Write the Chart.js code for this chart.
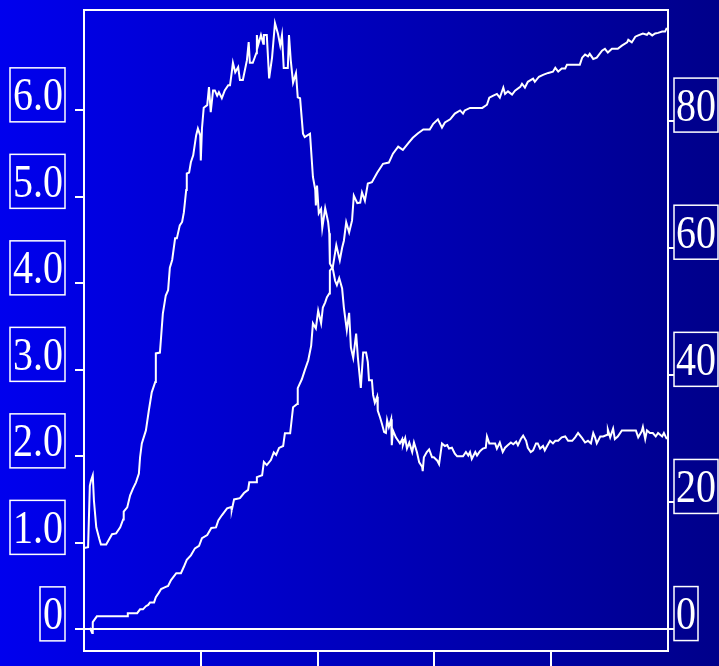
<!DOCTYPE html>
<html>
<head>
<meta charset="utf-8">
<style>
  html, body { margin: 0; padding: 0; overflow: hidden; background: #0000c0; }
  canvas { display: block; }
</style>
<script src="https://cdn.jsdelivr.net/npm/chart.js@4.4.1/dist/chart.umd.min.js"></script>
</head>
<body>
<canvas id="chart" width="719" height="666"></canvas>
<script>
// Tick positions and their printed labels
const xTicks = [20, 40, 60, 80];
const leftTicks = [0, 1, 2, 3, 4, 5, 6];
const leftLabels = ['0', '1.0', '2.0', '3.0', '4.0', '5.0', '6.0'];
const rightTicks = [0, 20, 40, 60, 80];
const rightLabels = ['0', '20', '40', '60', '80'];

// Rise-and-fall trace, read against the left axis: [x, value]
const primaryTrace = [
  [0,0.94],[0.7,0.95],[1.0,1.66],[1.2,1.72],[1.5,1.78],[1.7,1.49],[2.1,1.18],[2.6,1.05],[2.9,0.98],[3.8,0.98],
  [4.8,1.10],[5.5,1.11],[6.2,1.18],[6.7,1.27],[6.8,1.36],[7.4,1.41],[7.9,1.55],[8.4,1.63],[8.9,1.70],[9.4,1.80],
  [9.6,1.99],[9.9,2.15],[10.6,2.30],[11.1,2.53],[11.6,2.74],[12.2,2.86],[12.3,3.19],[13.0,3.20],[13.5,3.65],[14.0,3.86],
  [14.4,3.92],[14.7,4.18],[15.1,4.27],[15.6,4.52],[15.9,4.52],[16.4,4.67],[16.8,4.71],[17.1,4.82],[17.5,5.08],[17.6,5.27],
  [18.0,5.28],[18.3,5.40],[18.7,5.48],[19.2,5.71],[19.5,5.79],[19.9,5.71],[20.0,5.42],[20.2,5.79],[20.5,6.03],[21.1,6.06],
  [21.4,6.27],[21.7,5.98],[22.1,6.23],[22.4,6.23],[22.8,6.17],[23.1,6.21],[23.6,6.14],[24.1,6.23],[24.7,6.29],[25.0,6.29],
  [25.3,6.44],[25.5,6.55],[25.9,6.44],[26.4,6.50],[26.7,6.35],[27.2,6.35],[27.9,6.58],[28.2,6.79],[28.4,6.55],[28.9,6.55],
  [29.5,6.66],[29.6,6.87],[29.8,6.75],[30.3,6.87],[30.7,6.77],[30.8,6.87],[31.3,6.87],[31.7,6.37],[32.2,6.61],[32.7,7.01],
  [33.2,6.89],[33.6,6.75],[33.9,6.87],[34.2,6.49],[34.9,6.49],[35.1,6.87],[35.4,6.58],[35.8,6.32],[36.3,6.43],[36.6,6.15],
  [37.0,6.14],[37.5,5.73],[37.8,5.69],[38.7,5.73],[39.2,5.23],[39.6,5.08],[39.7,4.90],[39.9,5.13],[40.2,4.81],[40.6,4.86],
  [40.8,4.64],[41.3,4.87],[41.8,4.71],[42.0,4.58],[42.1,4.23],[42.6,4.17],[43.0,4.03],[43.3,3.98],[43.7,4.06],[44.2,3.94],
  [44.5,3.72],[45.0,3.46],[45.4,3.66],[45.7,3.26],[46.1,3.14],[46.6,3.42],[46.9,3.14],[47.4,2.79],[47.8,3.20],[48.3,3.20],
  [48.6,3.09],[48.8,2.88],[49.3,2.88],[49.5,2.71],[49.8,2.62],[50.2,2.69],[50.3,2.53],[50.7,2.45],[51.0,2.38],[51.4,2.28],
  [51.7,2.27],[51.9,2.42],[52.2,2.34],[52.6,2.43],[52.7,2.13],[52.9,2.30],[53.4,2.22],[53.8,2.18],[54.1,2.15],[54.5,2.20],
  [54.6,2.13],[55.0,2.21],[55.3,2.09],[55.7,2.16],[56.2,2.05],[56.5,2.16],[57.0,2.05],[57.4,1.93],[57.9,1.88],[58.0,1.83],
  [58.2,1.99],[58.7,2.05],[59.1,2.08],[59.6,1.99],[59.9,1.99],[60.5,1.95],[60.8,1.91],[61.3,2.15],[61.8,2.12],[62.2,2.13],
  [62.5,2.09],[63.0,2.10],[63.5,2.03],[63.9,2.00],[64.9,2.00],[65.4,2.05],[65.8,2.01],[66.1,2.05],[66.4,1.97],[67.0,2.05],
  [67.3,2.01],[67.8,2.06],[68.3,2.09],[68.8,2.10],[69.0,2.23],[69.4,2.15],[70.4,2.15],[70.7,2.09],[71.2,2.16],[71.7,2.05],
  [72.1,2.10],[72.6,2.13],[73.1,2.16],[73.5,2.14],[74.0,2.17],[74.3,2.13],[74.8,2.20],[75.2,2.24],[75.7,2.18],[76.0,2.10],
  [76.5,2.05],[76.9,2.07],[77.4,2.15],[77.7,2.15],[78.1,2.09],[78.6,2.12],[78.9,2.07],[79.3,2.12],[79.8,2.18],[80.3,2.15],
  [80.7,2.18],[81.2,2.18],[81.8,2.22],[82.4,2.23],[82.9,2.18],[83.6,2.18],[84.1,2.22],[84.6,2.27],[85.3,2.21],[85.8,2.16],
  [86.3,2.18],[86.8,2.15],[87.2,2.27],[87.5,2.22],[87.8,2.15],[88.4,2.23],[88.9,2.23],[89.6,2.25],[89.7,2.31],[90.1,2.22],
  [90.6,2.32],[90.9,2.20],[91.4,2.23],[92.1,2.30],[94.5,2.30],[94.9,2.22],[95.5,2.29],[95.7,2.34],[96.1,2.20],[96.4,2.30],
  [96.9,2.27],[97.4,2.27],[97.9,2.23],[98.3,2.27],[99.0,2.23],[99.3,2.27],[99.8,2.20]
];

// Steadily climbing trace, read against the right axis: [x, value]
const secondaryTrace = [
  [1.0,0.2],[1.4,-0.6],[1.5,1.1],[2.2,2.0],[7.4,2.0],[7.5,2.5],[9.1,2.5],[9.6,3.1],[10.1,3.1],[10.6,3.6],
  [11.0,3.8],[11.3,4.2],[12.0,4.2],[12.3,5.0],[12.8,5.7],[13.2,6.3],[13.9,6.6],[14.4,6.8],[14.9,7.7],[15.8,8.8],
  [16.6,8.8],[17.1,9.8],[17.6,10.9],[18.3,11.6],[19.0,12.7],[19.7,13.1],[20.2,14.3],[21.1,14.8],[21.8,15.9],[22.6,16.0],
  [23.0,17.1],[23.6,17.9],[24.5,19.0],[25.2,19.2],[25.3,18.7],[25.7,20.4],[26.7,20.6],[27.4,21.4],[28.1,21.9],[28.3,23.1],
  [29.5,23.1],[29.6,23.9],[30.5,24.2],[30.8,26.3],[31.3,25.8],[32.0,26.6],[32.5,27.8],[32.9,27.4],[33.4,28.5],[34.1,28.8],
  [34.4,30.8],[35.3,30.8],[35.8,34.9],[36.5,35.4],[36.6,37.9],[37.3,39.3],[37.8,40.7],[38.4,42.3],[38.9,44.6],[39.2,48.1],
  [39.7,47.3],[40.1,50.1],[40.6,48.1],[40.9,50.6],[41.3,51.4],[41.6,52.2],[42.0,52.8],[42.1,56.4],[42.6,56.9],[43.2,60.4],
  [43.8,58.0],[44.2,60.0],[44.5,61.1],[44.9,64.0],[45.4,62.4],[45.9,64.3],[46.2,68.2],[46.8,67.0],[47.3,67.1],[47.6,68.7],
  [48.1,67.4],[48.6,70.1],[49.3,70.3],[50.2,71.8],[51.2,73.2],[52.2,73.4],[52.9,74.8],[53.8,75.9],[54.6,75.4],[55.5,76.4],
  [56.3,77.3],[57.2,78.0],[58.1,78.6],[59.2,78.6],[59.8,79.5],[60.6,80.2],[61.3,78.9],[61.8,79.7],[62.7,80.2],[63.5,81.1],
  [64.4,81.6],[64.9,81.1],[65.2,81.6],[66.1,82.0],[68.2,82.0],[69.0,82.5],[69.4,83.6],[70.0,83.9],[70.7,84.2],[71.2,83.6],
  [71.8,85.2],[72.1,84.2],[72.6,84.6],[73.3,84.1],[73.8,84.7],[74.7,85.3],[75.0,85.8],[75.5,85.2],[76.0,86.1],[76.9,86.6],
  [77.2,86.1],[77.9,86.9],[78.6,87.2],[79.5,87.5],[80.3,87.7],[80.7,88.3],[81.2,87.7],[81.8,88.2],[82.4,88.2],[82.7,88.8],
  [84.9,88.8],[85.3,89.9],[85.8,90.4],[86.3,90.1],[86.6,90.5],[87.2,89.7],[87.8,89.9],[88.7,91.0],[89.2,91.3],[89.7,90.7],
  [90.4,91.3],[91.4,91.3],[92.1,91.8],[93.0,92.3],[93.2,92.7],[93.8,92.3],[94.4,93.2],[94.9,93.4],[95.7,93.7],[96.4,93.5],
  [96.7,93.8],[97.3,93.4],[97.8,93.7],[98.3,93.8],[99.0,94.0],[99.5,94.0],[99.8,94.6]
];

const LABEL_FONT = '40px "Liberation Serif", "Times New Roman", serif';
const STRETCH_Y = 1.15;

// Boxed tick label: text with its baseline on the tick, outlined rectangle around it
function boxedLabel(ctx, text, left, baseline, padL, padR) {
  const w = ctx.measureText(text).width;
  ctx.strokeRect(left - padL, baseline - 42.5, w + padL + padR, 54);
  ctx.save();
  ctx.translate(left, baseline);
  ctx.scale(1, STRETCH_Y);
  ctx.fillText(text, 0, 0);
  ctx.restore();
  return w;
}

const framePlugin = {
  id: 'frame',
  beforeDraw(chart) {
    const { ctx, width, height } = chart;
    const g = ctx.createLinearGradient(0, 0, width, 0);
    g.addColorStop(0, 'rgb(0,0,238)');
    g.addColorStop(1, 'rgb(0,0,138)');
    ctx.save();
    ctx.fillStyle = g;
    ctx.fillRect(0, 0, width, height);
    ctx.restore();
  },
  afterDraw(chart) {
    const { ctx, chartArea: a, scales } = chart;
    const sx = scales.x, sl = scales.yL, sr = scales.yR;
    ctx.save();
    ctx.strokeStyle = '#ffffff';
    ctx.fillStyle = '#ffffff';
    ctx.lineWidth = 2;
    ctx.lineCap = 'butt';

    // plot frame
    ctx.strokeRect(a.left, a.top, a.right - a.left, a.bottom - a.top);

    ctx.beginPath();
    // bottom ticks hang below the frame
    xTicks.forEach(v => {
      const px = Math.round(sx.getPixelForValue(v));
      ctx.moveTo(px, a.bottom);
      ctx.lineTo(px, a.bottom + 16);
    });
    // left ticks
    leftTicks.forEach(v => {
      const py = Math.round(sl.getPixelForValue(v));
      ctx.moveTo(a.left - 9, py);
      ctx.lineTo(a.left, py);
    });
    // right ticks
    rightTicks.forEach(v => {
      const py = Math.round(sr.getPixelForValue(v));
      ctx.moveTo(a.right, py);
      ctx.lineTo(a.right + 6, py);
    });
    // zero line across the plot
    const y0 = Math.round(sl.getPixelForValue(0));
    ctx.moveTo(a.left - 9, y0);
    ctx.lineTo(a.right + 6, y0);
    ctx.stroke();

    // boxed labels
    ctx.font = LABEL_FONT;
    ctx.textAlign = 'left';
    ctx.textBaseline = 'alphabetic';
    ctx.lineWidth = 1.5;
    leftTicks.forEach((v, i) => {
      const t = leftLabels[i];
      const w = ctx.measureText(t).width;
      const right = a.left - 21;
      boxedLabel(ctx, t, right - w, sl.getPixelForValue(v), 3, 2);
    });
    rightTicks.forEach((v, i) => {
      boxedLabel(ctx, rightLabels[i], a.right + 8, sr.getPixelForValue(v), 2, 2);
    });
    ctx.restore();
  }
};

const toPoints = arr => arr.map(([x, y]) => ({ x, y }));

new Chart(document.getElementById('chart'), {
  type: 'scatter',
  data: {
    datasets: [
      {
        data: toPoints(primaryTrace),
        yAxisID: 'yL',
        showLine: true,
        borderColor: '#ffffff',
        borderWidth: 2,
        pointRadius: 0,
        tension: 0
      },
      {
        data: toPoints(secondaryTrace),
        yAxisID: 'yR',
        showLine: true,
        borderColor: '#ffffff',
        borderWidth: 2,
        pointRadius: 0,
        tension: 0
      }
    ]
  },
  options: {
    responsive: false,
    animation: false,
    devicePixelRatio: 1,
    layout: { padding: { left: 84, right: 51, top: 10, bottom: 15 } },
    plugins: { legend: { display: false }, tooltip: { enabled: false } },
    scales: {
      x: { type: 'linear', min: 0, max: 100, display: false },
      yL: { type: 'linear', position: 'left', min: -0.25, max: 7.16, display: false },
      yR: { type: 'linear', position: 'right', min: -3.45, max: 97.4, display: false }
    }
  },
  plugins: [framePlugin]
});
</script>
</body>
</html>
